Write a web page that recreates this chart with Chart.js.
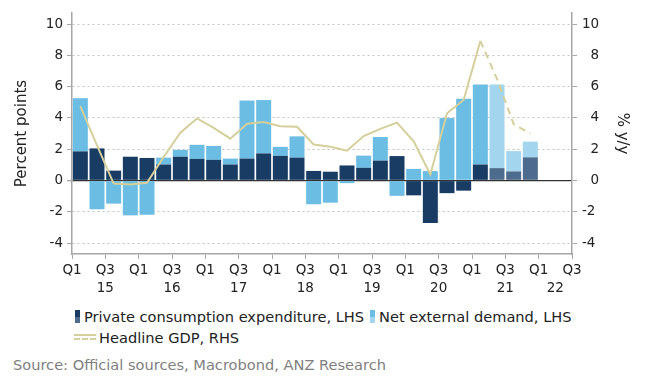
<!DOCTYPE html>
<html>
<head>
<meta charset="utf-8">
<script src="https://cdn.jsdelivr.net/npm/chart.js@4.4.1/dist/chart.umd.min.js"></script>
<style>
  body { margin: 0; background: #fff; font-family: "DejaVu Sans", Verdana, sans-serif; }
  #wrap { position: relative; width: 656px; height: 391px; }
  #box { position: absolute; left: 0; top: 0; width: 656px; height: 300px; }
  .lg { position: absolute; font-size: 14.6px; color: #222; white-space: nowrap; line-height: 18px; }
  .mk { display: inline-block; width: 5px; height: 13px; vertical-align: -1px; margin-right: 4px; }
  #src { position: absolute; left: 13px; top: 356px; font-size: 14.6px; color: #808080; white-space: nowrap; }
</style>
</head>
<body>
<div id="wrap">
  <div id="box"><canvas id="chart"></canvas></div>
  <div class="lg" style="left:75px; top:308px;"><span class="mk" style="background:linear-gradient(#183c63 50%, #4d6b8c 50%)"></span>Private consumption expenditure, LHS</div>
  <div class="lg" style="left:370px; top:308px;"><span class="mk" style="background:linear-gradient(#6bbde3 50%, #a3d6ee 50%)"></span>Net external demand, LHS</div>
  <div class="lg" style="left:74px; top:329px;"><span style="display:inline-block; width:22px; height:6px; border-top:2px solid #d5cf9c; border-bottom:2px dashed #d5cf9c; box-sizing:border-box; vertical-align:3px; margin-right:3px;"></span>Headline GDP, RHS</div>
  <div id="src">Source: Official sources, Macrobond, ANZ Research</div>
</div>
<script>
// trimestres Q1 2015 .. Q4 2021
const quarters = ['Q1 15','Q2 15','Q3 15','Q4 15','Q1 16','Q2 16','Q3 16','Q4 16',
  'Q1 17','Q2 17','Q3 17','Q4 17','Q1 18','Q2 18','Q3 18','Q4 18',
  'Q1 19','Q2 19','Q3 19','Q4 19','Q1 20','Q2 20','Q3 20','Q4 20',
  'Q1 21','Q2 21','Q3 21','Q4 21'];

// contribuições (pp), LHS
const consumption = [1.86, 2.05, 0.63, 1.52, 1.44, 1.02, 1.52, 1.38,
  1.32, 1.02, 1.40, 1.73, 1.57, 1.46, 0.61, 0.56,
  0.96, 0.81, 1.27, 1.56, -0.95, -2.72, -0.81, -0.65,
  1.02, 0.79, 0.58, 1.48];
const netExternal = [3.40, -1.84, -1.48, -2.23, -2.19, 0.44, 0.44, 0.90,
  0.89, 0.38, 3.71, 3.41, 0.58, 1.36, -1.52, -1.42,
  -0.17, 0.78, 1.51, -0.98, 0.74, 0.60, 3.99, 5.22,
  5.12, 5.35, 1.30, 1.00];

// PIB % a/a, RHS
const gdp = [4.75, 2.25, -0.2, -0.25, -0.15, 1.5, 3.05, 3.97,
  3.36, 2.67, 3.63, 3.74, 3.47, 3.43, 2.3, 2.15,
  1.9, 2.84, 3.3, 3.7, 2.5, 0.38, 4.3, 5.15,
  8.92, 6.5, 3.6, 3.0];

// a partir daqui é previsão
const firstForecast = 25;

const qTicks = ['Q1', 'Q3'];
const years = ['15','16','17','18','19','20','21','22'];

const navy = '#183c63', navyF = '#4d6b8c';
const sky = '#6bbde3', skyF = '#a3d6ee';
const khaki = '#d5cf9c';

const toPoints = arr => arr.map((v, i) => ({x: i + 0.5, y: v}));
const shade = (a, b) => quarters.map((q, i) => i >= firstForecast ? b : a);
const evenOnly = s => { s.ticks = s.ticks.filter(t => Number.isInteger(t.value) && t.value % 2 === 0); };

const font = {family: '"DejaVu Sans", Verdana, sans-serif', size: 13.5};
const titleFont = {family: font.family, size: 15};
const axisGrey = '#a6a6a6';

new Chart(document.getElementById('chart').getContext('2d'), {
  data: {
    datasets: [
      {
        type: 'line', label: 'Headline GDP, RHS', data: toPoints(gdp),
        yAxisID: 'y1', borderColor: khaki, borderWidth: 2, pointRadius: 0,
        tension: 0, order: 0,
        segment: { borderDash: c => c.p0DataIndex >= firstForecast - 1 ? [7, 5] : undefined }
      },
      {
        type: 'bar', label: 'Private consumption expenditure, LHS', data: toPoints(consumption),
        backgroundColor: shade(navy, navyF), yAxisID: 'y', order: 1,
        barPercentage: 0.9, categoryPercentage: 1
      },
      {
        type: 'bar', label: 'Net external demand, LHS', data: toPoints(netExternal),
        backgroundColor: shade(sky, skyF), yAxisID: 'y', order: 1,
        barPercentage: 0.9, categoryPercentage: 1
      }
    ]
  },
  options: {
    responsive: true,
    maintainAspectRatio: false,
    animation: false,
    layout: { padding: { top: 7, left: 0, right: 0, bottom: 0 } },
    plugins: { legend: { display: false }, tooltip: { enabled: false } },
    scales: {
      x: {
        type: 'linear', min: 0, max: 30, stacked: true, weight: 0, offset: false,
        grid: { drawOnChartArea: false, offset: false, tickLength: 5, tickColor: axisGrey },
        border: { color: axisGrey, width: 1.5 },
        ticks: {
          stepSize: 2, autoSkip: false, maxRotation: 0, padding: 3, color: '#222', font,
          callback: v => qTicks[(v % 4) / 2]
        },
        afterFit: s => { s.height = 26; }
      },
      xYear: {
        type: 'linear', position: 'bottom', min: 0, max: 30, weight: 1, offset: false,
        grid: { display: false, drawTicks: false, tickLength: 0 }, border: { display: false },
        afterBuildTicks: s => {
          s.ticks = years.map((y, i) => ({ value: Math.min(4 * i + 2, 29) }));
        },
        ticks: { autoSkip: false, maxRotation: 0, padding: 0, color: '#222', font,
          callback: (v, i) => years[i] },
        afterFit: s => { s.height = 20; }
      },
      y: {
        position: 'left', min: -4.7, max: 10.7, stacked: true,
        afterBuildTicks: evenOnly,
        ticks: { stepSize: 2, includeBounds: false, padding: 4, color: '#222', font },
        grid: {
          tickLength: 5, tickColor: axisGrey,
          color: c => c.tick && c.tick.value === 0 ? '#333' : '#c4c4c4',
          lineWidth: c => c.tick && c.tick.value === 0 ? 1.3 : 1
        },
        border: { color: axisGrey, width: 1.5, dash: c => c.tick && c.tick.value === 0 ? [] : [2, 3] },
        title: { display: true, text: 'Percent points', color: '#222',
          font: titleFont, padding: { top: 13, bottom: 0 } },
        afterFit: s => { s.width = 72; }
      },
      y1: {
        position: 'right', min: -4.7, max: 10.7,
        afterBuildTicks: evenOnly,
        ticks: { stepSize: 2, includeBounds: false, padding: 5, color: '#222', font,
          callback: v => (v >= 0 && v < 10 ? '\u2007' : '') + v },
        grid: { drawOnChartArea: false, tickLength: 5, tickColor: axisGrey },
        border: { color: axisGrey, width: 1.5 },
        title: { display: true, text: '% y/y', color: '#222',
          font: titleFont, padding: { top: 25, bottom: 0 } },
        afterFit: s => { s.width = 84; }
      }
    }
  }
});
</script>
</body>
</html>
